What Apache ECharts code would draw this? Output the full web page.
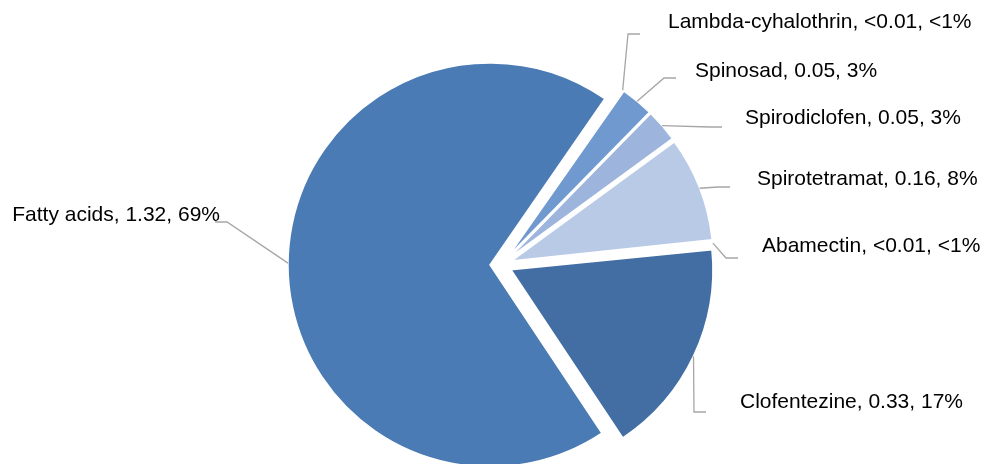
<!DOCTYPE html>
<html>
<head>
<meta charset="utf-8">
<title>Pesticide use</title>
<script src="https://cdn.jsdelivr.net/npm/echarts@6/dist/echarts.min.js"></script>
<style>
  html, body { margin: 0; padding: 0; background: #ffffff; }
  #chart { width: 987px; height: 464px; }
</style>
</head>
<body>
<div id="chart"></div>
<script>
// Active ingredients, listed clockwise from the upper-right sector
const categories = ['Lambda-cyhalothrin', 'Spinosad', 'Spirodiclofen', 'Spirotetramat', 'Abamectin', 'Clofentezine', 'Fatty acids'];
// Amounts applied (values below 0.01 are shown as "<0.01")
const amounts = [0.002, 0.05, 0.05, 0.16, 0.002, 0.33, 1.32];
const sliceColors = ['#5f8ac4', '#7099cf', '#9db5dc', '#b9cae7', '#a9bfe2', '#436ea3', '#4b7bb4'];

// Label placement: text edge x (left edge for right-hand labels, right edge for the left one), text centre y
const labelAnchors = [[668, 22], [695, 71], [745, 118], [757, 179], [762, 246], [740, 402], [220, 215]];
// Leader end: horizontal gap from the text edge, and drop below the text centre
const leaderGaps = [28, 19, 23, 27, 24, 34, -5];
const leaderDrops = [12, 7, 9, 8, 12, 10, 7];

const CENTER = [501, 265];
const RADIUS = 202;
const EXPLODE = 11;
const START_ANGLE = 55.35; // degrees, counter-clockwise from 3 o'clock
const LABEL_FONT = '21px "Liberation Sans", Arial, sans-serif';
const LEADER_COLOR = '#a6a6a6';

const total = amounts.reduce((a, b) => a + b, 0);

function fmtAmount(v) { return v < 0.01 ? '<0.01' : v.toFixed(2); }
function fmtShare(v) {
  const pct = v / total * 100;
  return pct < 1 ? '<1%' : Math.round(pct) + '%';
}

// Mid angle of each sector, clockwise from 12 o'clock, in radians
function midAngle(i) {
  let before = 0;
  for (let k = 0; k < i; k++) before += amounts[k];
  const deg = (90 - START_ANGLE) + (before + amounts[i] / 2) / total * 360;
  return deg * Math.PI / 180;
}

// Data labels with elbow leader lines running from the outer rim of each (exploded) sector
const labelGraphics = [];
categories.forEach((name, i) => {
  const a = midAngle(i);
  const r = RADIUS + EXPLODE;
  const sx = CENTER[0] + r * Math.sin(a);
  const sy = CENTER[1] - r * Math.cos(a);
  const [tx, ty] = labelAnchors[i];
  const onLeft = tx < CENTER[0];
  const dir = onLeft ? 1 : -1;
  const ex = tx + dir * leaderGaps[i];
  const ey = ty + leaderDrops[i];
  const bx = ex + dir * 12;
  labelGraphics.push({
    type: 'polyline',
    silent: true,
    z: 5,
    shape: { points: [[sx, sy], [bx, ey], [ex, ey]] },
    style: { stroke: LEADER_COLOR, lineWidth: 1.3, fill: null }
  });
  labelGraphics.push({
    type: 'text',
    silent: true,
    z: 6,
    x: tx,
    y: ty,
    style: {
      text: `${name}, ${fmtAmount(amounts[i])}, ${fmtShare(amounts[i])}`,
      font: LABEL_FONT,
      fill: '#000000',
      align: onLeft ? 'right' : 'left',
      verticalAlign: 'middle'
    }
  });
});

const chart = echarts.init(document.getElementById('chart'), null, { renderer: 'canvas' });

const seriesData = categories.map((name, i) => ({
  name: name,
  value: amounts[i],
  selected: true,
  itemStyle: { color: sliceColors[i] }
}));

chart.setOption({
  animation: false,
  backgroundColor: '#ffffff',
  graphic: labelGraphics,
  series: [{
    type: 'pie',
    center: CENTER,
    radius: RADIUS,
    startAngle: START_ANGLE,
    clockwise: true,
    selectedMode: 'multiple',
    selectedOffset: EXPLODE,
    avoidLabelOverlap: false,
    data: seriesData,
    itemStyle: { borderColor: '#ffffff', borderWidth: 1.5 },
    select: { itemStyle: { borderColor: '#ffffff', borderWidth: 1.5 } },
    emphasis: { disabled: true },
    label: { show: false },
    labelLine: { show: false }
  }]
});
</script>
</body>
</html>
